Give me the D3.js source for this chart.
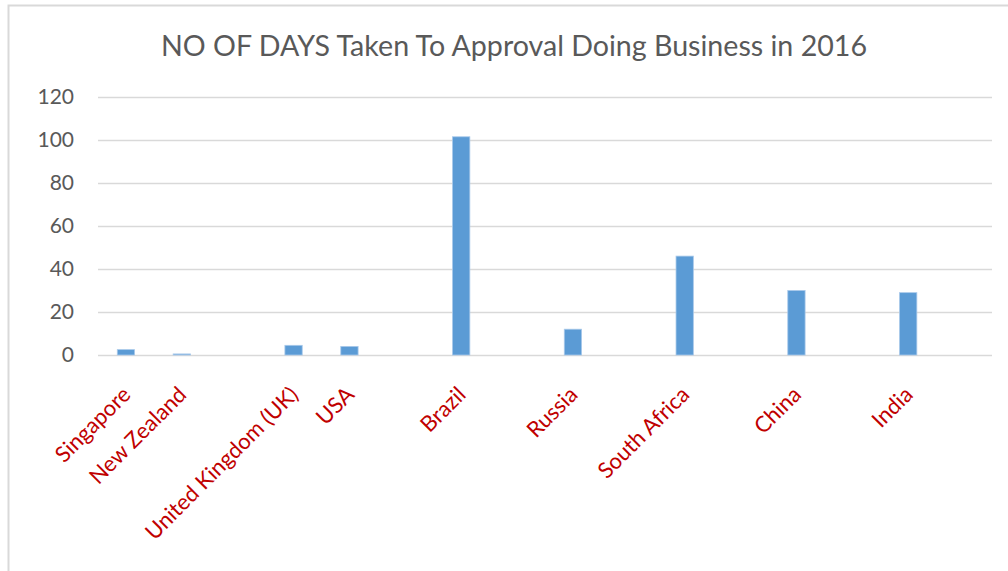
<!DOCTYPE html>
<html>
<head>
<meta charset="utf-8">
<script src="https://cdnjs.cloudflare.com/ajax/libs/d3/7.8.5/d3.min.js"></script>
<style>
  body { margin: 0; background: #fff; }
  text { font-family: Lato, "Open Sans", sans-serif; }
</style>
</head>
<body>
<div class="board"></div>
<script>
(function() {

  var title = 'NO OF DAYS Taken To Approval Doing Business in 2016';

  // empty strings are the blank category slots in the original sheet
  var countries = ['Singapore', 'New Zealand', '', 'United Kingdom (UK)', 'USA', '',
    'Brazil', '', 'Russia', '', 'South Africa', '', 'China', '', 'India', ''];
  var days = [2.5, 0.5, null, 4.5, 4, null, 101.5, null, 12, null, 46, null, 30, null, 29, null];
  var yTicks = [0, 20, 40, 60, 80, 100, 120];

  var options = { width: 1008, height: 571 };
  var plot = { left: 98, right: 992, top: 97, bottom: 355 };

  var svg = d3.select('.board')
    .append('svg')
    .attr('width', options.width)
    .attr('height', options.height);

  // chart area border (runs off the right and bottom edges)
  svg.append('rect')
    .attr('x', 8.5)
    .attr('y', 5.5)
    .attr('width', 1100)
    .attr('height', 700)
    .style('fill', 'none')
    .style('stroke', '#d9d9d9')
    .style('stroke-width', 2);

  svg.append('text')
    .attr('x', 514)
    .attr('y', 56)
    .text(title)
    .style('font-size', '28.6px')
    .style('fill', '#595959')
    .style('text-anchor', 'middle');

  var x = d3.scaleBand()
    .domain(d3.range(countries.length))
    .range([plot.left, plot.right])
    .paddingInner(0.69)
    .paddingOuter(0.345);

  var y = d3.scaleLinear()
    .domain([0, 120])
    .range([plot.bottom, plot.top]);

  var yAxis = svg.append('g')
    .attr('transform', 'translate(' + plot.left + ',0)')
    .call(d3.axisLeft(y).tickValues(yTicks).tickSize(-(plot.right - plot.left)).tickPadding(24));

  yAxis.select('.domain').remove();
  yAxis.selectAll('.tick line')
    .style('stroke', '#d9d9d9')
    .style('stroke-width', 1.5);
  yAxis.selectAll('.tick text')
    .style('font-size', '21px')
    .style('fill', '#595959')
    .style('font-family', 'Lato, sans-serif');

  var bars = svg.selectAll('rect.bar')
    .data(days.map(function(d, i) { return { i: i, v: d }; }).filter(function(d) { return d.v !== null; }))
    .enter()
    .append('rect')
    .attr('class', 'bar')
    .attr('x', function(d) { return x(d.i); })
    .attr('y', function(d) { return y(d.v); })
    .attr('width', x.bandwidth())
    .attr('height', function(d) { return y(0) - y(d.v); })
    .style('fill', '#5b9bd5')
    .style('stroke', '#a9c9ea')
    .style('stroke-width', 0.8);

  var labels = svg.selectAll('text.cat')
    .data(countries.map(function(c, i) { return { i: i, name: c }; }).filter(function(d) { return d.name; }))
    .enter()
    .append('text')
    .attr('class', 'cat')
    .attr('transform', function(d) {
      return 'translate(' + (x(d.i) + x.bandwidth() / 2 + 6) + ',' + 396 + ') rotate(-45)';
    })
    .text(function(d) { return d.name; })
    .style('font-size', '22px')
    .style('fill', '#c00000')
    .style('text-anchor', 'end');

})();
</script>
</body>
</html>
